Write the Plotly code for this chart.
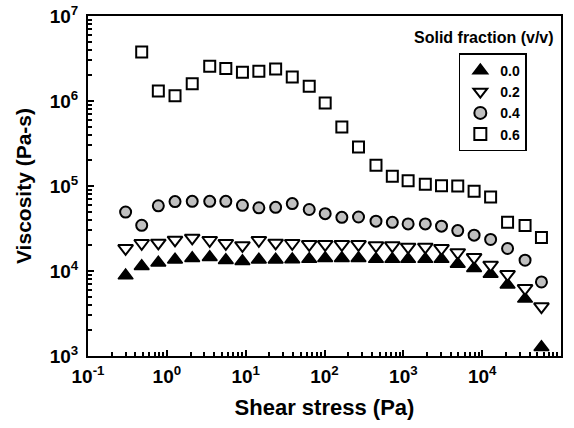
import plotly.graph_objects as go

# Shear stress steps (Pa), shared by all suspensions
shear_stress = [0.30, 0.48, 0.78, 1.27, 2.1, 3.5, 5.6, 9.1, 14.7, 24, 39, 64, 102,
                166, 270, 450, 725, 1150, 1900, 3050, 4900, 7900, 12800, 21000,
                35000, 56500]

# Viscosity (Pa-s) for each solid fraction (v/v)
viscosity_00 = [8830, 11400, 12500, 13600, 14100, 14500, 13400, 13000, 13600, 13600,
                13700, 13800, 14100, 14100, 14100, 13800, 13800, 13800, 13800, 13800,
                12100, 10800, 9200, 6900, 4700, 1270]
viscosity_02 = [18500, 21200, 21400, 23200, 24500, 23000, 21200, 20000, 23000, 21400,
                21200, 20600, 20600, 20600, 20600, 19900, 19900, 19200, 19200, 18500,
                16500, 14500, 11800, 9150, 6250, 3810]
viscosity_04 = [49400, 34500, 58500, 65500, 66000, 66000, 66000, 59300, 55400, 56100,
                62100, 52900, 47300, 42800, 43200, 38600, 37400, 35800, 35800, 33700,
                29900, 26400, 23500, 18400, 13400, 7430]
# the 0.6 suspension starts at the second stress step
viscosity_06 = [3.77e6, 1.31e6, 1.15e6, 1.60e6, 2.56e6, 2.41e6, 2.18e6, 2.24e6, 2.38e6,
                1.92e6, 1.49e6, 9.5e5, 4.94e5, 2.88e5, 1.75e5, 1.30e5, 1.15e5, 1.05e5,
                1.01e5, 1.00e5, 8.7e4, 7.4e4, 3.74e4, 3.42e4, 2.47e4]

series_names = ["0.0", "0.2", "0.4", "0.6"]

# Decade ticks and their labels
x_tick_vals = [0.1, 1, 10, 100, 1000, 10000, 100000]
x_tick_text = ["10<sup>-1</sup>", "10<sup>0</sup>", "10<sup>1</sup>", "10<sup>2</sup>",
               "10<sup>3</sup>", "10<sup>4</sup>", "10<sup>5</sup>"]
y_tick_vals = [1e3, 1e4, 1e5, 1e6, 1e7]
y_tick_text = ["10<sup>3</sup>", "10<sup>4</sup>", "10<sup>5</sup>", "10<sup>6</sup>",
               "10<sup>7</sup>"]


def minor_ticks(lo_exp, hi_exp):
    """2..9 x 10^k positions between two decades."""
    return [m * 10.0 ** k for k in range(lo_exp, hi_exp) for m in range(2, 10)]


FONT = "Liberation Sans, Arial, sans-serif"

fig = go.Figure()
fig.add_trace(go.Scatter(
    x=shear_stress, y=viscosity_00, mode="markers", name=series_names[0],
    marker=dict(symbol="triangle-up", size=13, color="black",
                line=dict(color="black", width=1.5))))
fig.add_trace(go.Scatter(
    x=shear_stress, y=viscosity_02, mode="markers", name=series_names[1],
    marker=dict(symbol="triangle-down", size=13, color="white",
                line=dict(color="black", width=2))))
fig.add_trace(go.Scatter(
    x=shear_stress, y=viscosity_04, mode="markers", name=series_names[2],
    marker=dict(symbol="circle", size=11, color="#c0c0c0",
                line=dict(color="black", width=2))))
fig.add_trace(go.Scatter(
    x=shear_stress[1:], y=viscosity_06, mode="markers", name=series_names[3],
    marker=dict(symbol="square", size=11, color="white",
                line=dict(color="black", width=2))))

axis_common = dict(
    type="log", showgrid=False, zeroline=False,
    showline=True, linecolor="black", linewidth=2, mirror=True,
    ticks="inside", ticklen=6, tickwidth=1.5, tickcolor="black",
    tickfont=dict(family=FONT, size=19, color="black", weight="bold"),
)

fig.update_xaxes(
    range=[-1, 5], tickmode="array", tickvals=x_tick_vals, ticktext=x_tick_text,
    minor=dict(tickmode="array", tickvals=minor_ticks(-1, 5), ticks="inside",
               ticklen=4, tickwidth=1.5, tickcolor="black", showgrid=False),
    ticklabelstandoff=2, **axis_common,
    title=dict(text="Shear stress (Pa)", standoff=14,
               font=dict(family=FONT, size=22, color="black", weight="bold")))
fig.update_yaxes(
    range=[3, 7], tickmode="array", tickvals=y_tick_vals, ticktext=y_tick_text,
    minor=dict(tickmode="array", tickvals=minor_ticks(3, 7), ticks="inside",
               ticklen=4, tickwidth=1.5, tickcolor="black", showgrid=False),
    ticklabelstandoff=4, **axis_common,
    title=dict(text="Viscosity (Pa-s)", standoff=12,
               font=dict(family=FONT, size=21, color="black", weight="bold")))

fig.add_annotation(
    text="Solid fraction (v/v)", xref="paper", yref="paper",
    x=0.838, y=0.937, xanchor="center", yanchor="middle", showarrow=False,
    font=dict(family=FONT, size=16, color="black", weight="bold"))

fig.update_layout(
    width=574, height=428,
    margin=dict(l=88, r=13, t=16, b=72, autoexpand=False),
    paper_bgcolor="white", plot_bgcolor="white",
    showlegend=True,
    legend=dict(
        x=0.784, y=0.89, xanchor="left", yanchor="top",
        bordercolor="black", borderwidth=1.5, bgcolor="white",
        font=dict(family=FONT, size=14, color="black", weight="bold"),
        tracegroupgap=0, itemsizing="constant"),
)

fig.write_html("out.html")
